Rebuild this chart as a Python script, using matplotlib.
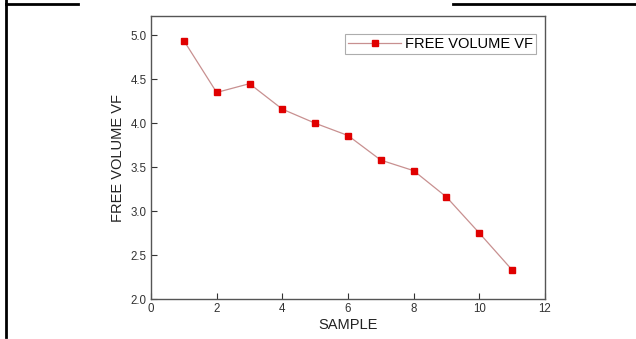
import matplotlib
matplotlib.use("Agg")
import matplotlib.pyplot as plt
from matplotlib.lines import Line2D

# data
sample = [1, 2, 3, 4, 5, 6, 7, 8, 9, 10, 11]
free_volume = [4.94, 4.35, 4.45, 4.16, 4.00, 3.86, 3.58, 3.46, 3.16, 2.75, 2.33]
xticks = [0, 2, 4, 6, 8, 10, 12]
yticks = [2.0, 2.5, 3.0, 3.5, 4.0, 4.5, 5.0]

plt.rcParams['font.family'] = ['Liberation Sans', 'DejaVu Sans']

W, H = 636, 339
fig = plt.figure(figsize=(W / 100, H / 100), dpi=100)
ax = fig.add_axes([151 / W, 1 - 299 / H, (545 - 151) / W, (299 - 16) / H])

ax.plot(sample, free_volume, color='#c89090', lw=0.9, marker='s', ms=4.6,
        mfc='#e00000', mec='#e00000', label='FREE VOLUME VF')

ax.set_xlim(0, 12)
ax.set_ylim(2.0, 5.22)
ax.set_xticks(xticks)
ax.set_xticklabels([str(t) for t in xticks])
ax.set_yticks(yticks)
ax.set_yticklabels(['%.1f' % t for t in yticks])
ax.tick_params(direction='in', length=4, width=0.8, labelsize=8.3, colors='#333333',
               pad=3)
for s in ax.spines.values():
    s.set_color('#555555')
    s.set_linewidth(1.0)

ax.set_xlabel('SAMPLE', fontsize=10.5, color='#222222', labelpad=2)
ax.set_ylabel('FREE VOLUME VF', fontsize=10.5, color='#222222', labelpad=4)

leg = ax.legend(loc='upper right', bbox_to_anchor=(0.985, 0.945), fontsize=10.5,
                frameon=True, fancybox=False, edgecolor='#999999',
                handlelength=3.6, borderpad=0.2, handletextpad=0.3,
                borderaxespad=0.2)
leg.get_frame().set_linewidth(0.8)

# page border pieces around the figure
def px_line(x0, y0, x1, y1, lw=2):
    fig.add_artist(Line2D([x0 / W, x1 / W], [1 - y0 / H, 1 - y1 / H],
                          transform=fig.transFigure, color='black', lw=lw))

px_line(6, 0, 6, 337)
px_line(6, 4, 78, 4)
px_line(453, 4, 636, 4)

fig.savefig('out.png', dpi=100)
